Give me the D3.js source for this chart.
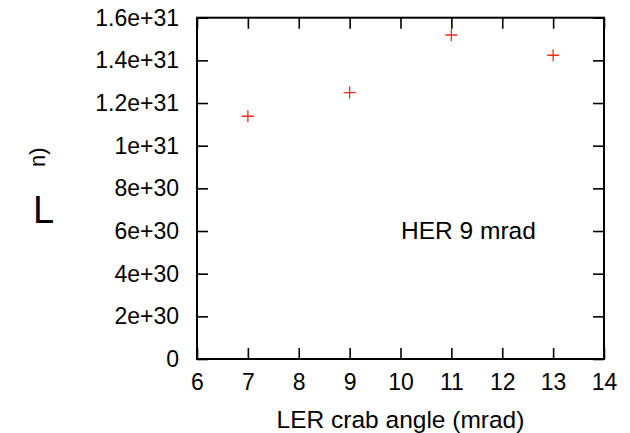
<!DOCTYPE html>
<html>
<head>
<meta charset="utf-8">
<script src="https://cdn.jsdelivr.net/npm/d3@7"></script>
<style>
  html, body { margin: 0; padding: 0; background: #fff; }
  svg { display: block; font-family: "Liberation Sans", Arial, Helvetica, sans-serif; }
</style>
</head>
<body>
<svg id="chart" width="630" height="433"></svg>
<script>
// LER crab angle scan (HER crab angle fixed at 9 mrad)
const crabAngles = [7, 9, 11, 13];
const luminosity = [1.138e31, 1.249e31, 1.519e31, 1.424e31];

const xTicks = [6, 7, 8, 9, 10, 11, 12, 13, 14];
const yTicks = [0, 2e30, 4e30, 6e30, 8e30, 1e31, 1.2e31, 1.4e31, 1.6e31];
const yTickLabels = ["0", "2e+30", "4e+30", "6e+30", "8e+30", "1e+31", "1.2e+31", "1.4e+31", "1.6e+31"];

const FONT = '"Liberation Sans", Arial, Helvetica, sans-serif';
const plot = { left: 197, right: 604, top: 17.7, bottom: 359 };

const svg = d3.select("#chart");

const x = d3.scaleLinear().domain([6, 14]).range([plot.left, plot.right]);
const y = d3.scaleLinear().domain([0, 1.6e31]).range([plot.bottom, plot.top]);

const tickLen = 11;

function styleAxis(g) {
  g.attr("font-family", FONT);
  g.select(".domain").remove();
  g.selectAll(".tick line").attr("stroke", "#000").attr("stroke-width", 1.6);
  g.selectAll(".tick text").attr("fill", "#000");
}

// bottom axis with labels
svg.append("g")
  .attr("transform", `translate(0,${plot.bottom})`)
  .call(d3.axisBottom(x).tickValues(xTicks).tickFormat(d3.format("d"))
    .tickSize(-tickLen).tickPadding(15))
  .call(styleAxis)
  .call(g => g.selectAll(".tick text").attr("font-size", 23));

// top mirror ticks
svg.append("g")
  .attr("transform", `translate(0,${plot.top})`)
  .call(d3.axisTop(x).tickValues(xTicks).tickFormat("").tickSize(-tickLen))
  .call(styleAxis);

// left axis with labels
svg.append("g")
  .attr("transform", `translate(${plot.left},0)`)
  .call(d3.axisLeft(y).tickValues(yTicks).tickFormat((d, i) => yTickLabels[i])
    .tickSize(-tickLen).tickPadding(18))
  .call(styleAxis)
  .call(g => g.selectAll(".tick text").attr("font-size", 23));

// right mirror ticks
svg.append("g")
  .attr("transform", `translate(${plot.right},0)`)
  .call(d3.axisRight(y).tickValues(yTicks).tickFormat("").tickSize(-tickLen))
  .call(styleAxis);

// plot border
svg.append("rect")
  .attr("x", plot.left).attr("y", plot.top)
  .attr("width", plot.right - plot.left).attr("height", plot.bottom - plot.top)
  .attr("fill", "none").attr("stroke", "#000").attr("stroke-width", 2);

// data points as "+" markers
const pts = d3.zip(crabAngles, luminosity);
const m = 6;
const marks = svg.append("g").attr("stroke", "#ff2a1a").attr("stroke-width", 1.3).attr("fill", "none");
marks.selectAll("path").data(pts).join("path")
  .attr("d", d => {
    const cx = x(d[0]), cy = y(d[1]);
    return `M${cx - m},${cy}H${cx + m}M${cx},${cy - m}V${cy + m}`;
  });

// in-plot annotation
svg.append("text")
  .attr("x", 401).attr("y", 239)
  .attr("font-size", 24.5)
  .text("HER 9 mrad");

// x axis title
svg.append("text")
  .attr("x", (plot.left + plot.right) / 2).attr("y", 428)
  .attr("text-anchor", "middle").attr("font-size", 24.5)
  .text("LER crab angle (mrad)");

// y axis title
svg.append("text")
  .attr("x", 33).attr("y", 223)
  .attr("font-size", 38)
  .text("L");
svg.append("text")
  .attr("transform", "translate(45,167) rotate(-90)")
  .attr("font-size", 22)
  .text("n)");
</script>
</body>
</html>
